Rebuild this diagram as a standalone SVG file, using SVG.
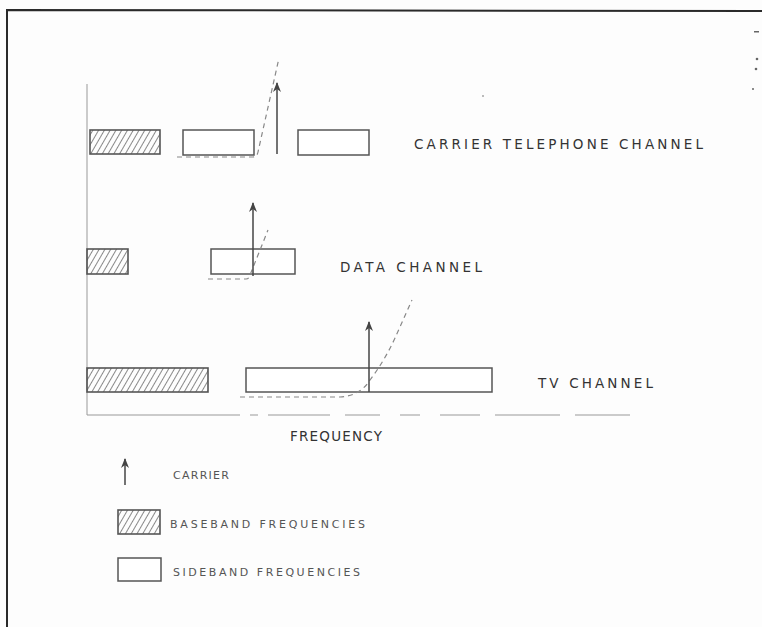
<svg xmlns="http://www.w3.org/2000/svg" width="762" height="627" viewBox="0 0 762 627">
<defs>
<pattern id="hatch" patternUnits="userSpaceOnUse" width="5" height="5" patternTransform="rotate(30)">
<line x1="0" y1="0" x2="0" y2="5" stroke="#555" stroke-width="1.4"/>
</pattern>
<marker id="ah" viewBox="0 0 10 10" refX="9" refY="5" markerWidth="10" markerHeight="10" markerUnits="userSpaceOnUse" orient="auto">
<path d="M0,1 L10,5 L0,9 L3,5 Z" fill="#444"/>
</marker>
<style>
.frame{fill:none;stroke:#2a2a2a;stroke-width:2}
.axis{fill:none;stroke:#999;stroke-width:1}
.hb{fill:url(#hatch);stroke:#555;stroke-width:1.6}
.sb{fill:#fff;stroke:#555;stroke-width:1.5}
.car{stroke:#444;stroke-width:1.5;fill:none}
.dash{fill:none;stroke:#888;stroke-width:1.2;stroke-dasharray:5 4}
.lbl{font-family:"DejaVu Sans","Liberation Sans",sans-serif;font-size:13.5px;fill:#333}
.leg{font-family:"DejaVu Sans","Liberation Sans",sans-serif;font-size:11px;fill:#555}
</style>
</defs>
<rect width="762" height="627" fill="#fdfdfd"/>
<g id="frame">
<path class="frame" d="M7,627 L7,10 L762,11"/>
</g>
<g id="axes">
<line class="axis" x1="87" y1="84" x2="87" y2="415"/>
<path class="axis" stroke="#aaa" d="M87,415 L240,415 M250,415 L258,415 M268,415 L330,415 M345,415 L380,415 M400,415 L420,415 M440,415 L480,415 M495,415 L560,415 M575,415 L630,415"/>
</g>
<g id="row-telephone">
<rect class="hb" x="90" y="130" width="70" height="24"/>
<rect class="sb" x="183" y="130" width="71" height="25"/>
<rect class="sb" x="298" y="130" width="71" height="25"/>
<text class="lbl" x="414" y="149" textLength="289" lengthAdjust="spacing">CARRIER TELEPHONE CHANNEL</text>
</g>
<g id="row-data">
<rect class="hb" x="87" y="249" width="41" height="25"/>
<rect class="sb" x="211" y="249" width="84" height="25"/>
<text class="lbl" x="340" y="272" textLength="142" lengthAdjust="spacing">DATA CHANNEL</text>
</g>
<g id="row-tv">
<rect class="hb" x="87" y="368" width="121" height="24"/>
<rect class="sb" x="246" y="368" width="246" height="24"/>
<text class="lbl" x="538" y="388" textLength="115" lengthAdjust="spacing">TV CHANNEL</text>
</g>
<g id="connectors">
<path class="dash" d="M177,157 L253,157 Q257,157 258,152 L279,58"/>
<line class="car" x1="277" y1="154" x2="277" y2="83" marker-end="url(#ah)"/>
<path class="dash" d="M208,279 L246,279 Q249,279 250,275 L268,230"/>
<line class="car" x1="253" y1="276" x2="253" y2="203" marker-end="url(#ah)"/>
<path class="dash" d="M240,397 L340,397 Q360,396 370,380 Q385,360 395,338 L412,300"/>
<line class="car" x1="369" y1="392" x2="369" y2="322" marker-end="url(#ah)"/>
</g>
<g id="freq-label">
<text class="lbl" x="290" y="441" textLength="92" lengthAdjust="spacing">FREQUENCY</text>
</g>
<g id="legend-carrier">
<line class="car" x1="125" y1="485" x2="125" y2="459" marker-end="url(#ah)"/>
<text class="leg" x="173" y="479" textLength="56" lengthAdjust="spacing">CARRIER</text>
</g>
<g id="legend-baseband">
<rect class="hb" x="118" y="510" width="42" height="24"/>
<text class="leg" x="170" y="528" textLength="195" lengthAdjust="spacing">BASEBAND FREQUENCIES</text>
</g>
<g id="legend-sideband">
<rect class="sb" x="118" y="558" width="43" height="23"/>
<text class="leg" x="173" y="576" textLength="187" lengthAdjust="spacing">SIDEBAND FREQUENCIES</text>
</g>
<g id="margin-marks" fill="#666">
<rect x="754" y="31" width="5" height="1.5"/>
<circle cx="757" cy="59" r="1.3"/>
<circle cx="756" cy="69" r="1.3"/>
<circle cx="753" cy="89" r="1"/>
<circle cx="483" cy="96" r="0.8"/>
</g>
</svg>
